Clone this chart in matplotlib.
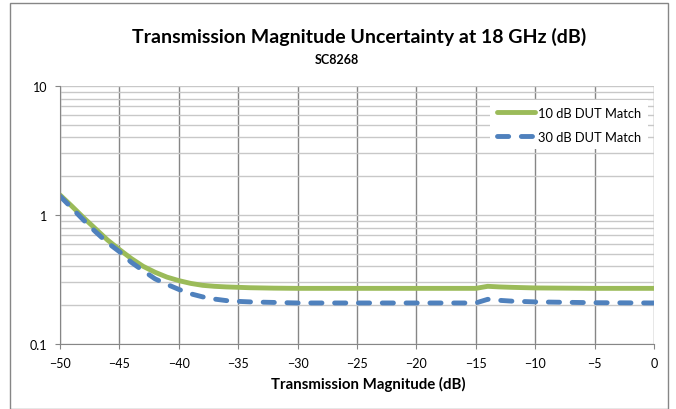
import matplotlib.pyplot as plt
from matplotlib.patches import Rectangle

plt.rcParams['font.family'] = ['Lato', 'DejaVu Sans']

# transmission magnitude (dB)
x = [-50, -49, -48, -47, -46, -45, -44, -43, -42, -41, -40, -39, -38, -37, -36,
     -35, -34, -32, -30, -25, -20, -15, -14, -13, -12, -10, -5, 0]
# uncertainty (dB)
match10 = [1.43, 1.17, 0.95, 0.78, 0.64, 0.54, 0.46, 0.40, 0.36, 0.33, 0.31, 0.295,
           0.285, 0.28, 0.277, 0.275, 0.273, 0.271, 0.27, 0.27, 0.27, 0.27, 0.28,
           0.277, 0.275, 0.272, 0.27, 0.27]
match30 = [1.40, 1.13, 0.91, 0.74, 0.61, 0.52, 0.43, 0.37, 0.32, 0.29, 0.265, 0.245,
           0.232, 0.223, 0.217, 0.214, 0.212, 0.21, 0.208, 0.208, 0.208, 0.208, 0.222,
           0.218, 0.215, 0.212, 0.209, 0.208]

fig = plt.figure(figsize=(6.76, 4.10), dpi=100)
W, H = 676, 410
ax = fig.add_axes([60 / W, 1 - 345 / H, 594 / W, 258 / H])

ax.plot(x, match10, color='#9BBB59', lw=3.5, label='10 dB DUT Match', solid_capstyle='round')
ax.plot(x, match30, color='#4F81BD', lw=3.5, ls=(0, (2.3, 2.6)), label='30 dB DUT Match',
        dash_capstyle='round')

ax.set_yscale('log')
ax.set_ylim(0.1, 10)
ax.set_xlim(-50, 0)
ax.set_xticks(range(-50, 1, 5))
ax.set_yticks([0.1, 1, 10])
ax.set_yticklabels(['0.1', '1', '10'])
ax.tick_params(axis='both', labelsize=9, color='#868686', length=3.6, direction='out', pad=5.5)
ax.tick_params(axis='y', which='minor', length=0)
ax.grid(True, which='major', axis='x', color='#868686', lw=1)
ax.grid(True, which='both', axis='y', color='#c8c8c8', lw=1)
ax.set_axisbelow(True)
for s in ['top', 'right']:
    ax.spines[s].set_visible(False)
for s in ['left', 'bottom']:
    ax.spines[s].set_color('#868686')

fig.text(368 / W, 1 - 384 / H, 'Transmission Magnitude (dB)', ha='center', va='center',
         fontsize=10.8, fontweight='bold')
fig.text(359 / W, 1 - 37 / H, 'Transmission Magnitude Uncertainty at 18 GHz (dB)',
         ha='center', va='center', fontsize=14, fontweight='bold')
fig.text(337 / W, 1 - 60 / H, 'SC8268', ha='center', va='center', fontsize=9, fontweight='bold')

leg = ax.legend(loc='upper right', bbox_to_anchor=(1.0, 0.97), fontsize=9.3, frameon=True,
                fancybox=False, edgecolor='none', framealpha=1, handlelength=3.0,
                handletextpad=0.2, borderpad=0.5, labelspacing=0.95)

fig.patches.append(Rectangle((10 / W, 0), 658 / W, 1 - 4 / H, transform=fig.transFigure,
                             fill=False, edgecolor='#868686', lw=1))

fig.savefig('out.png', dpi=100)
